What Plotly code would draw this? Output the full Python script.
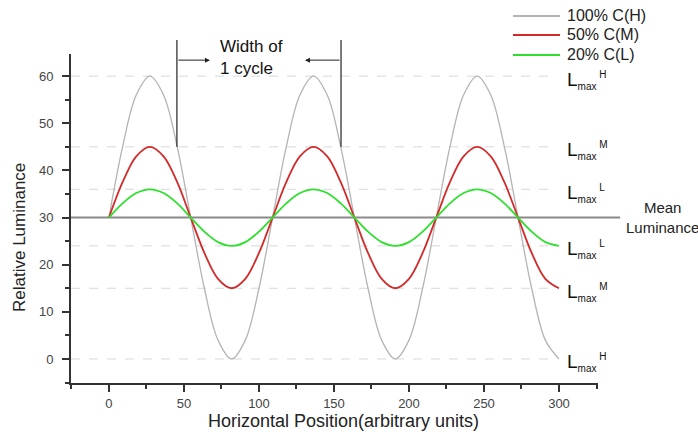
import plotly.graph_objects as go

# Data (12 samples per cycle, cycle ~109 units)
x_pos = [0, 9.1, 18.2, 27.3, 36.4, 45.5, 54.5, 63.6, 72.7, 81.8, 90.9, 100.0,
         109.1, 118.2, 127.3, 136.4, 145.5, 154.5, 163.6, 172.7, 181.8, 190.9,
         200.0, 209.1, 218.2, 227.3, 236.4, 245.5, 254.5, 263.6, 272.7, 281.8,
         290.9, 300.0]
lum_high = [30, 45, 56, 60, 56, 45, 30, 15, 4, 0, 4, 15,
            30, 45, 56, 60, 56, 45, 30, 15, 4, 0, 4, 15,
            30, 45, 56, 60, 56, 45, 30, 15, 4, 0]
lum_mid = [30, 37.5, 43, 45, 43, 37.5, 30, 22.5, 17, 15, 17, 22.5,
           30, 37.5, 43, 45, 43, 37.5, 30, 22.5, 17, 15, 17, 22.5,
           30, 37.5, 43, 45, 43, 37.5, 30, 22.5, 17, 15]
lum_low = [30, 33, 35.2, 36, 35.2, 33, 30, 27, 24.8, 24, 24.8, 27,
           30, 33, 35.2, 36, 35.2, 33, 30, 27, 24.8, 24, 24.8, 27,
           30, 33, 35.2, 36, 35.2, 33, 30, 27, 24.8, 24]
series_names = ["100% C(H)", "50% C(M)", "20% C(L)"]
series_colors = ["#b4b4b4", "#d42a2a", "#2ee02e"]

ref_levels = [60, 45, 36, 24, 15, 0]
ref_labels = ["H", "M", "L", "L", "M", "H"]
mean_level = 30
cycle_start = 45.3
cycle_end = 154.7
arrow_y = 63.4

XR = [-25.3, 326]
YR = [-5.1, 64.7]
ML, MR, MT, MB = 71, 100, 54, 53
W, H = 698, 436
PW, PH = W - ML - MR, H - MT - MB


def xp(v):
    return (v - XR[0]) / (XR[1] - XR[0])


def yp(v):
    return (v - YR[0]) / (YR[1] - YR[0])


def pxx(px):
    return (px - ML) / PW


def pxy(py):
    return (H - MB - py) / PH


FONT = "Liberation Sans, Arial, sans-serif"
fig = go.Figure()
for ys, nm, c, w in zip([lum_high, lum_mid, lum_low], series_names, series_colors, [1.3, 1.8, 1.8]):
    fig.add_trace(go.Scatter(x=x_pos, y=ys, name=nm, mode="lines", showlegend=False,
                             line=dict(color=c, width=w, shape="spline", smoothing=1.0)))

shapes = []
annotations = []

# reference (max/min) levels
for lv in ref_levels:
    shapes.append(dict(type="line", xref="paper", yref="y", x0=0, x1=xp(298), y0=lv, y1=lv,
                       line=dict(color="#d8d8d8", width=1, dash="dash"), layer="below"))
# mean luminance line
shapes.append(dict(type="line", xref="paper", yref="paper", x0=0, x1=1.042,
                   y0=yp(mean_level), y1=yp(mean_level),
                   line=dict(color="#8a8a8a", width=2), layer="below"))
# cycle markers
for cx in [cycle_start, cycle_end]:
    shapes.append(dict(type="line", xref="paper", yref="paper", x0=xp(cx), x1=xp(cx),
                       y0=yp(45), y1=1.0426, line=dict(color="#333333", width=1.3)))

# legend (drawn manually for exact placement)
for i, (nm, c) in enumerate(zip(series_names, series_colors)):
    ly = [16, 35, 55][i]
    shapes.append(dict(type="line", xref="paper", yref="paper", x0=pxx(513), x1=pxx(560),
                       y0=pxy(ly), y1=pxy(ly), line=dict(color=c, width=2)))
    annotations.append(dict(x=pxx(565), y=pxy(ly), xref="paper", yref="paper", text=nm,
                            showarrow=False, xanchor="left", yanchor="middle",
                            font=dict(family=FONT, size=16, color="#222222")))

for lv, lab in zip(ref_levels, ref_labels):
    annotations.append(dict(x=pxx(565), y=yp(lv) - 0.012, xref="paper", yref="paper",
                            text="L<sub><span style='font-size:10px'>max</span></sub>"
                                 "<sup><span style='font-size:10px'> " + lab + "</span></sup>",
                            showarrow=False, xanchor="left", yanchor="middle",
                            font=dict(family=FONT, size=19, color="#111111")))
annotations.append(dict(x=pxx(662), y=yp(mean_level), xref="paper", yref="paper",
                        text="Mean<br>Luminance", showarrow=False, xanchor="center",
                        yanchor="middle", font=dict(family=FONT, size=15, color="#222222")))
annotations.append(dict(x=pxx(218), y=pxy(57), xref="paper", yref="paper",
                        text="Width of<br>1 cycle", showarrow=False, xanchor="left", align="left",
                        yanchor="middle", font=dict(family=FONT, size=17, color="#111111")))
annotations.append(dict(x=67.3, y=arrow_y, ax=cycle_start, ay=arrow_y, xref="x", yref="y",
                        axref="x", ayref="y", text="", showarrow=True, arrowhead=2,
                        arrowsize=1, arrowwidth=1, arrowcolor="#222222", standoff=0))
annotations.append(dict(x=130.7, y=arrow_y, ax=cycle_end, ay=arrow_y, xref="x", yref="y",
                        axref="x", ayref="y", text="", showarrow=True, arrowhead=2,
                        arrowsize=1, arrowwidth=1, arrowcolor="#222222", standoff=0))
# axis titles
annotations.append(dict(x=pxx(343), y=pxy(421), xref="paper", yref="paper",
                        text="Horizontal Position(arbitrary units)", showarrow=False,
                        xanchor="center", yanchor="middle",
                        font=dict(family=FONT, size=18, color="#222222")))
annotations.append(dict(x=pxx(19), y=pxy(238), xref="paper", yref="paper",
                        text="Relative Luminance", showarrow=False, textangle=-90,
                        xanchor="center", yanchor="middle",
                        font=dict(family=FONT, size=17, color="#222222")))

axis_common = dict(showline=True, linecolor="#333333", linewidth=2, ticks="outside",
                   ticklen=7, tickwidth=1.5, tickcolor="#333333", showgrid=False,
                   zeroline=False, mirror=False,
                   tickfont=dict(family=FONT, size=13, color="#444444"))

fig.update_layout(
    width=W, height=H,
    margin=dict(l=ML, r=MR, t=MT, b=MB),
    paper_bgcolor="white", plot_bgcolor="white",
    font=dict(family=FONT),
    showlegend=False,
    shapes=shapes,
    annotations=annotations,
    xaxis=dict(range=XR, dtick=50, tick0=0,
               minor=dict(dtick=25, tick0=0, ticks="outside", ticklen=4, tickcolor="#333333"),
               **axis_common),
    yaxis=dict(range=YR, dtick=10, tick0=0,
               minor=dict(dtick=5, tick0=0, ticks="outside", ticklen=4, tickcolor="#333333"),
               ticklabelstandoff=6,
               **axis_common),
)

fig.write_html("out.html")
